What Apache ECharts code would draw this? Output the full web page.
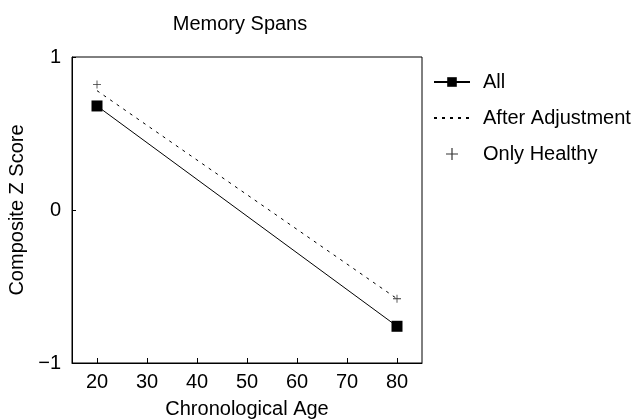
<!DOCTYPE html>
<html>
<head>
<meta charset="utf-8">
<script src="https://cdn.jsdelivr.net/npm/echarts@6/dist/echarts.min.js"></script>
<style>
  html, body { margin: 0; padding: 0; background: #fff; }
  #chart { width: 641px; height: 419px; }
</style>
</head>
<body>
<div id="chart"></div>
<script>
// data
const ages = [20, 80]
const allScores = [0.68, -0.76]
const adjustedScores = [0.78, -0.58]
const healthyScores = [0.82, -0.58]
const xTicks = [20, 30, 40, 50, 60, 70, 80]
const yTicks = [-1, 0, 1]

const plus = 'path://M4.5,0 L5.5,0 L5.5,4.5 L10,4.5 L10,5.5 L5.5,5.5 L5.5,10 L4.5,10 L4.5,5.5 L0,5.5 L0,4.5 L4.5,4.5 Z'
const font = 'Liberation Sans'

const chart = echarts.init(document.getElementById('chart'))

const toPairs = (ys) => ages.map((a, i) => [a, ys[i]])

chart.setOption({
  animation: false,
  textStyle: { fontFamily: font, color: '#000' },
  title: {
    text: 'Memory Spans',
    left: 235,
    textAlign: 'center',
    top: 9,
    textStyle: { fontFamily: font, fontSize: 20, fontWeight: 'normal', color: '#000' }
  },
  grid: {
    left: 72, right: 219, top: 57, bottom: 56,
    outerBoundsMode: 'none',
    containLabel: false,
    show: true, borderColor: '#000', borderWidth: 1
  },
  legend: {
    orient: 'vertical',
    left: 428,
    top: 67,
    itemGap: 16,
    itemWidth: 36,
    itemHeight: 12,
    textStyle: { fontFamily: font, fontSize: 20, color: '#000', padding: [0, 0, 0, 8] },
    data: [
      'All',
      { name: 'After Adjustment', itemStyle: { opacity: 0 } },
      'Only Healthy'
    ]
  },
  xAxis: {
    type: 'value',
    min: 15, max: 85,
    name: 'Chronological Age',
    nameLocation: 'middle',
    nameGap: 36,
    nameTextStyle: { fontFamily: font, fontSize: 20, color: '#000' },
    axisLine: { show: true, onZero: false, lineStyle: { color: '#000' } },
    axisTick: { show: true, inside: true, length: 5, lineStyle: { color: '#000' },
      customValues: xTicks },
    axisLabel: { fontFamily: font, fontSize: 20, color: '#000', margin: 9,
      customValues: xTicks },
    splitLine: { show: false }
  },
  yAxis: {
    type: 'value',
    min: -1, max: 1, interval: 1,
    name: 'Composite Z Score',
    nameLocation: 'middle',
    nameGap: 42,
    nameTextStyle: { fontFamily: font, fontSize: 20, color: '#000' },
    axisLine: { show: true, onZero: false, lineStyle: { color: '#000' } },
    axisTick: { show: true, inside: true, length: 4, lineStyle: { color: '#000' } },
    axisLabel: { fontFamily: font, fontSize: 20, color: '#000', margin: 11,
      formatter: (v) => yTicks.includes(v) ? String(v).replace('-', '\u2212') : '' },
    splitLine: { show: false }
  },
  series: [
    {
      name: 'All',
      type: 'line',
      data: toPairs(allScores),
      symbol: 'rect',
      symbolSize: 11,
      itemStyle: { color: '#000' },
      lineStyle: { color: '#000', width: 1 }
    },
    {
      name: 'After Adjustment',
      type: 'line',
      data: toPairs(adjustedScores),
      symbol: 'none',
      itemStyle: { color: '#000' },
      lineStyle: { color: '#000', width: 1, type: [3, 5] }
    },
    {
      name: 'Only Healthy',
      type: 'scatter',
      data: toPairs(healthyScores),
      symbol: plus,
      symbolSize: 8,
      itemStyle: { color: '#000' }
    }
  ]
})
</script>
</body>
</html>
